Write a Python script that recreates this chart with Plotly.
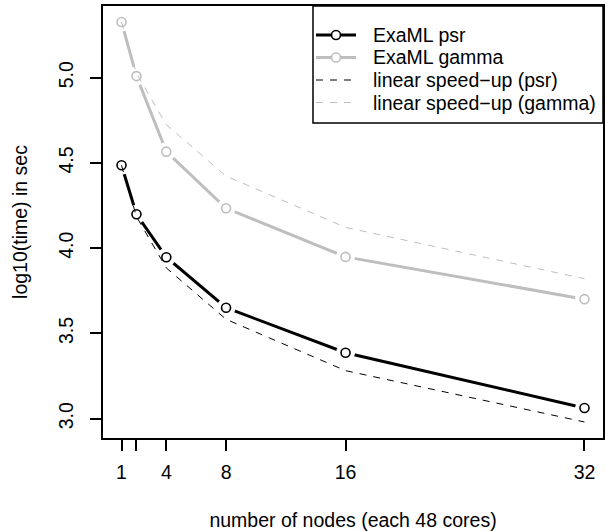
import plotly.graph_objects as go

nodes = [1, 2, 4, 8, 16, 32]
tick_labels = ["1", "", "4", "8", "16", "32"]
psr = [4.486, 4.199, 3.947, 3.651, 3.387, 3.063]
gamma = [5.326, 5.009, 4.566, 4.234, 3.949, 3.701]
linear_psr = [4.486, 4.185, 3.884, 3.583, 3.282, 2.981]
linear_gamma = [5.326, 5.025, 4.724, 4.423, 4.122, 3.821]
legend_names = ["ExaML psr", "ExaML gamma", "linear speed\u2212up (psr)", "linear speed\u2212up (gamma)"]

BLACK = "#000000"
GRAY = "#BEBEBE"
FONT = "Liberation Sans, Arial, Helvetica, sans-serif"
FS = 19.5

W, H = 605, 531
ML, MR, MT, MB = 103, 2, 6, 93
PW, PH = W - ML - MR, H - MT - MB


def px(xp):
    return (xp - ML) / PW


def py(yp):
    return (H - MB - yp) / PH


fig = go.Figure()

# main solid lines
fig.add_trace(go.Scatter(x=nodes, y=psr, name=legend_names[0], mode="lines",
                         line=dict(color=BLACK, width=3), showlegend=False))
fig.add_trace(go.Scatter(x=nodes, y=gamma, name=legend_names[1], mode="lines",
                         line=dict(color=GRAY, width=3), showlegend=False))
# gaps around points (type="b")
for ys in (psr, gamma):
    fig.add_trace(go.Scatter(x=nodes, y=ys, mode="markers", showlegend=False, hoverinfo="skip",
                             marker=dict(symbol="circle", size=19, color="white", line=dict(width=0))))
# linear speed-up
fig.add_trace(go.Scatter(x=nodes, y=linear_psr, name=legend_names[2], mode="lines",
                         line=dict(color=BLACK, width=1, dash="7px,7px"), showlegend=False))
fig.add_trace(go.Scatter(x=nodes, y=linear_gamma, name=legend_names[3], mode="lines",
                         line=dict(color=GRAY, width=1, dash="7px,7px"), showlegend=False))
# point glyphs
for ys, c, nm in ((psr, BLACK, legend_names[0]), (gamma, GRAY, legend_names[1])):
    fig.add_trace(go.Scatter(x=nodes, y=ys, mode="markers", showlegend=False, name=nm,
                             marker=dict(symbol="circle-open", size=9, color=c,
                                         line=dict(width=1.6, color=c))))

# legend drawn as a boxed key (R style)
shapes = [dict(type="rect", xref="paper", yref="paper", x0=px(313), x1=px(603), y0=py(123), y1=py(6),
               line=dict(color="black", width=1.5), fillcolor="white", layer="above")]
annotations = []
row_y = [35, 57.5, 80, 102.5]
styles = [(BLACK, 3, "solid", True), (GRAY, 3, "solid", True),
          (BLACK, 1, "7px,7px", False), (GRAY, 1, "7px,7px", False)]
for name, ry, (c, w, d, pt) in zip(legend_names, row_y, styles):
    shapes.append(dict(type="line", xref="paper", yref="paper", x0=px(316), x1=px(356),
                       y0=py(ry), y1=py(ry), line=dict(color=c, width=w, dash=d), layer="above"))
    if pt:
        shapes.append(dict(type="circle", xref="paper", yref="paper", xsizemode="pixel",
                           ysizemode="pixel", xanchor=px(336), yanchor=py(ry),
                           x0=-4.5, x1=4.5, y0=-4.5, y1=4.5,
                           line=dict(color=c, width=1.6), fillcolor="white", layer="above"))
    annotations.append(dict(text=name, xref="paper", yref="paper", x=px(371), y=py(ry),
                            xanchor="left", yanchor="middle", showarrow=False,
                            font=dict(family=FONT, size=FS, color="black")))

axis_common = dict(showline=True, mirror=True, linecolor="black", linewidth=1.5,
                   ticks="outside", ticklen=11, tickwidth=1.5, tickcolor="black",
                   showgrid=False, zeroline=False,
                   tickfont=dict(family=FONT, size=FS, color="black"))

fig.update_layout(
    width=W, height=H,
    margin=dict(l=ML, r=MR, t=MT, b=MB, autoexpand=False),
    paper_bgcolor="white", plot_bgcolor="white",
    font=dict(family=FONT, size=FS, color="black"),
    xaxis=dict(range=[-0.24, 33.24], tickvals=nodes, ticktext=tick_labels,
               ticklabelstandoff=5,
               title=dict(text="number of nodes (each 48 cores)", standoff=32,
                          font=dict(family=FONT, size=FS)),
               **axis_common),
    yaxis=dict(range=[2.887, 5.420], tickvals=[3.0, 3.5, 4.0, 4.5, 5.0], tickformat=".1f",
               tickangle=-90, ticklabelstandoff=9,
               title=dict(text="log10(time) in sec", standoff=23,
                          font=dict(family=FONT, size=FS)),
               **axis_common),
    shapes=shapes,
    annotations=annotations,
    showlegend=False,
)

fig.write_html("out.html", config={"displayModeBar": False},
               post_script="document.body.style.margin='0px';document.body.style.overflow='hidden';")
